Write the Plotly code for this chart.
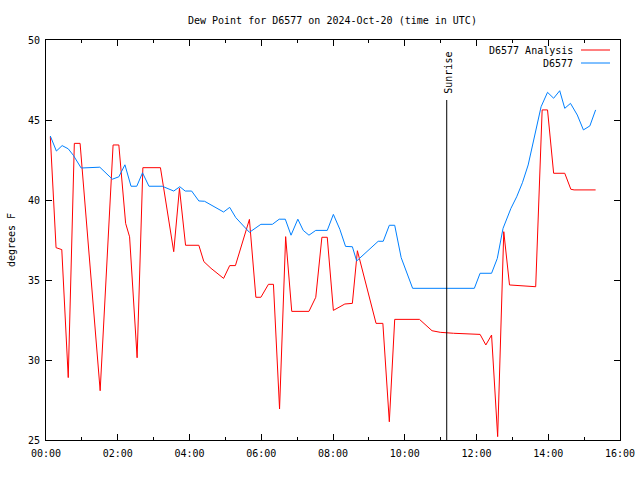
import plotly.graph_objects as go

# Time in hours UTC
analysis_hours = [0.12, 0.28, 0.44, 0.62, 0.79, 0.95, 1.51, 1.87, 2.03, 2.22, 2.33, 2.54, 2.70, 3.19,
                  3.56, 3.72, 3.89, 4.26, 4.40, 4.60, 4.95, 5.12, 5.28, 5.67, 5.85, 5.99, 6.20, 6.34,
                  6.51, 6.68, 6.85, 7.33, 7.52, 7.69, 7.84, 8.01, 8.33, 8.54, 8.68, 9.20, 9.39, 9.57,
                  9.72, 10.41, 10.76, 10.99, 11.36, 12.10, 12.26, 12.42, 12.59, 12.76, 12.92, 13.65,
                  13.83, 13.98, 14.15, 14.46, 14.63, 14.72, 15.32]
analysis_dewpt = [43.96, 37.02, 36.9, 28.9, 43.54, 43.54, 28.08, 43.44, 43.44, 38.54, 37.7, 30.14, 42.02, 42.02,
                  36.77, 40.73, 37.17, 37.17, 36.15, 35.73, 35.1, 35.9, 35.9, 38.79, 33.92, 33.92, 34.73, 34.73,
                  26.94, 37.71, 33.04, 33.04, 33.92, 37.67, 37.67, 33.1, 33.5, 33.54, 36.83, 32.29, 32.29, 26.14,
                  32.54, 32.54, 31.83, 31.73, 31.67, 31.6, 30.94, 31.56, 25.21, 38.02, 34.69, 34.58,
                  45.63, 45.63, 41.67, 41.67, 40.67, 40.63, 40.63]

station_hours = [0.12, 0.29, 0.45, 0.62, 0.76, 0.98, 1.50, 1.85, 2.03, 2.20, 2.37, 2.53, 2.69, 2.87, 3.24,
                 3.56, 3.73, 3.88, 4.06, 4.26, 4.42, 4.95, 5.12, 5.29, 5.67, 5.99, 6.31, 6.50, 6.67, 6.83,
                 7.02, 7.17, 7.33, 7.52, 7.84, 8.01, 8.19, 8.35, 8.54, 8.66, 9.26, 9.40, 9.57, 9.72, 9.90,
                 10.22, 11.94, 12.10, 12.42, 12.58, 12.74, 12.80, 12.96, 13.12, 13.28, 13.44, 13.63, 13.80,
                 13.98, 14.15, 14.32, 14.46, 14.62, 14.81, 14.98, 15.16, 15.32]
station_dewpt = [44.0, 43.06, 43.4, 43.2, 42.8, 42.0, 42.05, 41.3, 41.45, 42.2, 40.86, 40.86, 41.7, 40.86, 40.86,
                 40.56, 40.83, 40.56, 40.56, 39.94, 39.92, 39.25, 39.54, 38.9, 37.98, 38.48, 38.48, 38.8, 38.8, 37.8,
                 38.8, 38.1, 37.8, 38.1, 38.1, 39.1, 38.17, 37.1, 37.08, 36.19, 37.42, 37.42, 38.42, 38.42, 36.4,
                 34.48, 34.48, 35.42, 35.42, 36.35, 38.23, 38.58, 39.48, 40.2, 41.08, 42.19, 44.17, 45.83,
                 46.73, 46.36, 46.83, 45.73, 46.04, 45.31, 44.38, 44.63, 45.63]

sunrise_hour = 11.17
x_tick_vals = [0, 2, 4, 6, 8, 10, 12, 14, 16]
x_tick_text = ["00:00", "02:00", "04:00", "06:00", "08:00", "10:00", "12:00", "14:00", "16:00"]
y_tick_vals = [25, 30, 35, 40, 45, 50]

FONT = "DejaVu Sans Mono"
FS = 10
RED = "#ff0000"
BLUE = "#0080ff"

fig = go.Figure()
fig.add_trace(go.Scatter(x=analysis_hours, y=analysis_dewpt, mode="lines",
                         line=dict(color=RED, width=1), name="D6577 Analysis", showlegend=False))
fig.add_trace(go.Scatter(x=station_hours, y=station_dewpt, mode="lines",
                         line=dict(color=BLUE, width=1), name="D6577", showlegend=False))

# Sunrise line
fig.add_shape(type="line", xref="x", yref="y", x0=sunrise_hour, x1=sunrise_hour, y0=25, y1=46.25,
              line=dict(color="black", width=1))
fig.add_annotation(x=sunrise_hour, y=46.25, xref="x", yref="y", text="Sunrise", textangle=-90,
                   showarrow=False, yanchor="bottom", xanchor="center", yshift=4, xshift=1,
                   font=dict(family=FONT, size=FS, color="black"))

# Manual legend (text left of sample line, gnuplot style)
legend_items = [("D6577 Analysis", RED), ("D6577", BLUE)]
for i, (label, col) in enumerate(legend_items):
    ypix = 50 + 13 * i
    ypaper = 1 - (ypix - 40) / 400
    fig.add_annotation(x=(575 - 46) / 574, y=ypaper, xref="paper", yref="paper", text=label,
                       showarrow=False, xanchor="right", yanchor="middle",
                       font=dict(family=FONT, size=FS, color="black"))
    fig.add_shape(type="line", xref="paper", yref="paper",
                  x0=(581 - 46) / 574, x1=(610 - 46) / 574, y0=ypaper, y1=ypaper,
                  line=dict(color=col, width=1))

fig.update_layout(
    width=640, height=480,
    margin=dict(l=46, r=20, t=40, b=40, autoexpand=False),
    paper_bgcolor="white", plot_bgcolor="white",
    font=dict(family=FONT, size=FS, color="black"),
    title=dict(text="Dew Point for D6577 on 2024-Oct-20 (time in UTC)", x=0.499, xanchor="center",
               xref="paper", yref="container", automargin=False,
               y=1 - 20 / 480, yanchor="middle", font=dict(family=FONT, size=FS, color="black")),
    showlegend=False,
)
fig.update_xaxes(range=[0, 16], tickmode="array", tickvals=x_tick_vals, ticktext=x_tick_text,
                 automargin=False, ticklabelstandoff=4,
                 showgrid=False, zeroline=False, showline=True, linecolor="black", linewidth=1,
                 mirror="ticks", ticks="inside", ticklen=6, tickcolor="black", tickwidth=1,
                 minor=dict(tickvals=list(range(0, 17)), ticks="inside", ticklen=3, tickcolor="black",
                            showgrid=False),
                 tickfont=dict(family=FONT, size=FS))
fig.update_yaxes(range=[25, 50], tickmode="array", tickvals=y_tick_vals,
                 automargin=False, ticklabelstandoff=3,
                 showgrid=False, zeroline=False, showline=True, linecolor="black", linewidth=1,
                 mirror="ticks", ticks="inside", ticklen=6, tickcolor="black", tickwidth=1,
                 title=dict(text="degrees F", standoff=10, font=dict(family=FONT, size=FS)),
                 tickfont=dict(family=FONT, size=FS))

fig.write_html("out.html", post_script="document.body.style.margin='0';",
               config={"displayModeBar": False})
